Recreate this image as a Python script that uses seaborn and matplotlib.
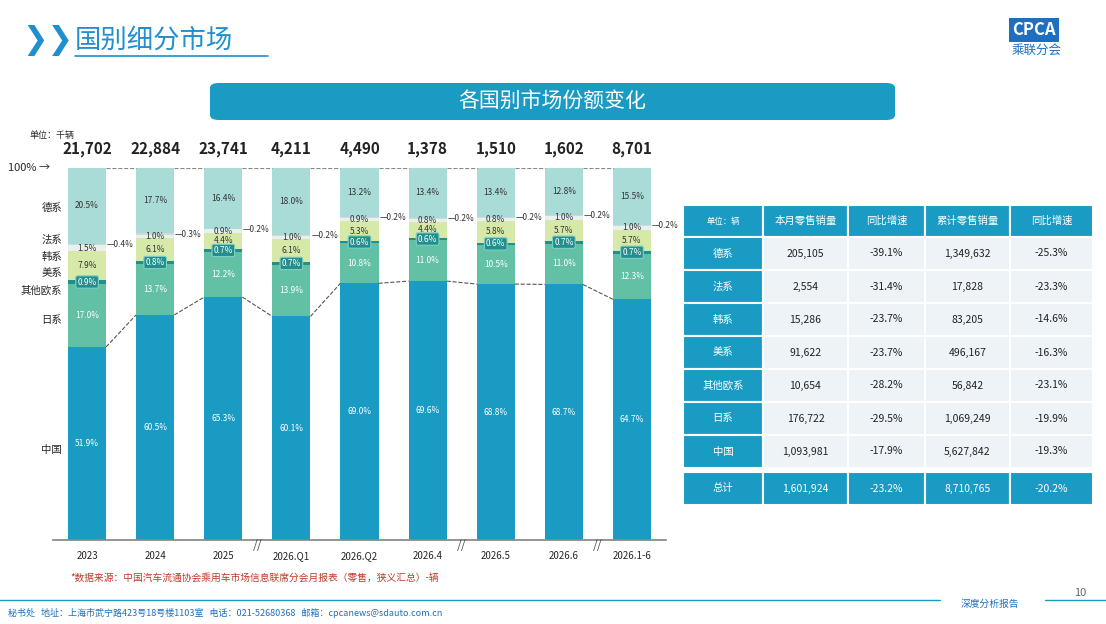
import matplotlib
matplotlib.use("Agg")
import matplotlib.pyplot as plt
from matplotlib.patches import FancyBboxPatch, Rectangle
import pandas as pd
import seaborn as sns

sns.set_theme(style="white")
plt.rcParams['font.family'] = ['Noto Sans CJK SC', 'DejaVu Sans']

periods = ["2023", "2024", "2025", "2026.Q1", "2026.Q2", "2026.4", "2026.5", "2026.6", "2026.1-6"]
totals = ["21,702", "22,884", "23,741", "4,211", "4,490", "1,378", "1,510", "1,602", "8,701"]
groups = ["中国", "日系", "其他欧系", "美系", "韩系", "法系", "德系"]
china = [51.9, 60.5, 65.3, 60.1, 69.0, 69.6, 68.8, 68.7, 64.7]
japan = [17.0, 13.7, 12.2, 13.9, 10.8, 11.0, 10.5, 11.0, 12.3]
euro = [0.9, 0.8, 0.7, 0.7, 0.6, 0.6, 0.6, 0.7, 0.7]
usa = [7.9, 6.1, 4.4, 6.1, 5.3, 4.4, 5.8, 5.7, 5.7]
korea = [1.5, 1.0, 0.9, 1.0, 0.9, 0.8, 0.8, 1.0, 1.0]
france = [0.4, 0.3, 0.2, 0.2, 0.2, 0.2, 0.2, 0.2, 0.2]
germany = [20.5, 17.7, 16.4, 18.0, 13.2, 13.4, 13.4, 12.8, 15.5]

table_head = ["单位：辆", "本月零售销量", "同比增速", "累计零售销量", "同比增速"]
table_rows = ["德系", "法系", "韩系", "美系", "其他欧系", "日系", "中国", "总计"]
month_sales = ["205,105", "2,554", "15,286", "91,622", "10,654", "176,722", "1,093,981", "1,601,924"]
month_yoy = ["-39.1%", "-31.4%", "-23.7%", "-23.7%", "-28.2%", "-29.5%", "-17.9%", "-23.2%"]
cum_sales = ["1,349,632", "17,828", "83,205", "496,167", "56,842", "1,069,249", "5,627,842", "8,710,765"]
cum_yoy = ["-25.3%", "-23.3%", "-14.6%", "-16.3%", "-23.1%", "-19.9%", "-19.3%", "-20.2%"]

BLUE = "#1a9bc4"
colors = ["#1a9bc4", "#62c0a4", "#238f8c", "#d6e9a8", "#e9f0ef", "#d0d8d8", "#a9dcd7"]
W, H = 1106, 624

fig = plt.figure(figsize=(W / 100, H / 100), dpi=100)
fig.patch.set_facecolor("white")

def fx(px):
    return px / W

def fy(py):
    return 1 - py / H

# header
fig.text(fx(22), fy(40), "❯❯", color="#1f8fd0", fontsize=22, fontweight="bold", va="center",
         family=['DejaVu Sans'])
fig.text(fx(75), fy(40), "国别细分市场", color="#1f8fd0", fontsize=19, va="center")
fig.add_artist(plt.Line2D([fx(75), fx(268)], [fy(56), fy(56)], color="#1f8fd0", lw=1.2))
fig.text(fx(1012), fy(30), "CPCA", color="white", fontsize=12, fontweight="bold", fontstyle="italic",
         va="center", bbox=dict(boxstyle="square,pad=0.2", fc="#1f6fc0", ec="none"))
fig.text(fx(1012), fy(50), "乘联分会", color="#1f6fc0", fontsize=9, va="center")
fig.add_artist(FancyBboxPatch((fx(210), fy(120)), fx(685), 37 / H, boxstyle="round,pad=0,rounding_size=0.008",
                              transform=fig.transFigure, fc=BLUE, ec="none"))
fig.text(fx(552), fy(101), "各国别市场份额变化", color="white", fontsize=15, ha="center", va="center")

# stacked chart
ax = fig.add_axes([fx(53), fy(540), fx(613), (540 - 168) / H])
df = pd.DataFrame({"period": periods, "中国": china, "日系": japan, "其他欧系": euro, "美系": usa,
                   "韩系": korea, "法系": france, "德系": germany})
bottom = [0.0] * len(periods)
for g, c in zip(groups, colors):
    sns.barplot(data=df, x="period", y=g, bottom=bottom, color=c, width=0.56, ax=ax,
                saturation=1, edgecolor="none")
    for i, v in enumerate(df[g]):
        mid = bottom[i] + v / 2
        lab = f"{v:.1f}%"
        if g in ("中国", "日系"):
            ax.text(i, mid, lab, ha="center", va="center", fontsize=6, color="white")
        elif g == "其他欧系":
            ax.text(i, mid, lab, ha="center", va="center", fontsize=6, color="white",
                    bbox=dict(boxstyle="round,pad=0.2", fc="#238f8c", ec="#7fd0c8", lw=0.8))
        elif g == "法系":
            ax.text(i + 0.29, mid, "—" + lab, ha="left", va="center", fontsize=6, color="#333333")
        else:
            ax.text(i, mid, lab, ha="center", va="center", fontsize=6, color="#333333")
    bottom = [b + v for b, v in zip(bottom, df[g])]

# dashed connectors between bars
for i in range(len(periods) - 1):
    ax.plot([i + 0.28, i + 0.72], [china[i], china[i + 1]], ls="--", color="#555555", lw=0.8)
    ax.plot([i + 0.28, i + 0.72], [100, 100], ls="--", color="#888888", lw=0.8)

for i, t in enumerate(totals):
    ax.text(i, 103, t, ha="center", va="bottom", fontsize=11, fontweight="bold", color="#222222")
for xb in (2.5, 5.5, 7.5):
    ax.text(xb, -1.5, "//", ha="center", va="center", fontsize=9, color="#555555")

ax.set_xlim(-0.5, len(periods) - 0.5)
ax.set_ylim(0, 100)
ax.set_ylabel("")
ax.set_xlabel("")
ax.set_yticks([])
ax.tick_params(axis="x", labelsize=7, length=0, pad=8)
for s in ("top", "right", "left"):
    ax.spines[s].set_visible(False)
ax.spines["bottom"].set_color("#888888")

# left labels
fig.text(fx(30), fy(138), "单位：千辆", fontsize=6.5)
fig.text(fx(8), fy(168), "100% →", fontsize=8, va="center")
for lab, py in zip(["德系", "法系", "韩系", "美系", "其他欧系", "日系", "中国"],
                   [208, 240, 257, 273, 291, 320, 450]):
    fig.text(fx(62), fy(py), lab, fontsize=7.5, ha="right", va="center")

# table
cols = [683, 763, 848, 925, 1010, 1093]
row_top = 205
head_h = 32
row_h = 33
cells = [table_head] + [[r, a, b, c, d] for r, a, b, c, d in
                        zip(table_rows, month_sales, month_yoy, cum_sales, cum_yoy)]
for ri, row in enumerate(cells):
    y0 = row_top if ri == 0 else row_top + head_h + (ri - 1) * row_h + (4 if ri == 8 else 0)
    hh = head_h if ri == 0 else row_h
    for ci, txt in enumerate(row):
        x0 = cols[ci]
        head = ri == 0 or ri == 8 or ci == 0
        fc = BLUE if head else "#eef3f8"
        fig.add_artist(Rectangle((fx(x0), fy(y0 + hh)), fx(cols[ci + 1] - x0), hh / H,
                                 transform=fig.transFigure, fc=fc, ec="white", lw=1.5))
        fs = 6 if (ri == 0 and ci == 0) else 7.5
        fig.text(fx((x0 + cols[ci + 1]) / 2), fy(y0 + hh / 2), txt, ha="center", va="center",
                 fontsize=fs, color="white" if head else "#222222")

# footer
fig.text(fx(70), fy(578), "*数据来源：中国汽车流通协会乘用车市场信息联席分会月报表（零售，狭义汇总）-辆",
         fontsize=7, color="#c0392b", va="center")
fig.add_artist(plt.Line2D([fx(0), fx(940)], [fy(600), fy(600)], color=BLUE, lw=1))
fig.add_artist(plt.Line2D([fx(1045), fx(1106)], [fy(600), fy(600)], color=BLUE, lw=1))
fig.text(fx(990), fy(604), "深度分析报告", fontsize=7, color="#1f6fc0", ha="center", va="center")
fig.text(fx(1080), fy(593), "10", fontsize=8, color="#666666", ha="center", va="center")
fig.text(fx(8), fy(613), "秘书处   地址：上海市武宁路423号18号楼1103室   电话：021-52680368   邮箱：cpcanews@sdauto.com.cn",
         fontsize=6.5, color="#1f6fc0", va="center")

fig.savefig("out.png", dpi=100)
